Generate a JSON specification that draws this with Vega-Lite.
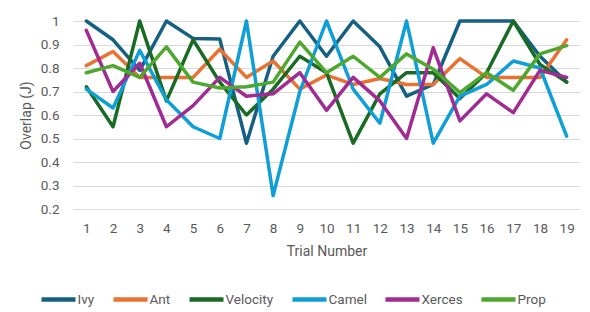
{
  "$schema": "https://vega.github.io/schema/vega-lite/v6.json",
  "width": 507,
  "height": 188,
  "autosize": {"type": "none"},
  "padding": {"left": 73, "top": 21, "right": 10, "bottom": 103},
  "background": "white",
  "config": {
    "view": {"stroke": null},
    "font": "Roboto",
    "axis": {"labelColor": "#595959", "titleColor": "#595959", "labelFontSize": 13.5, "titleFontSize": 14, "titleFontWeight": "normal"},
    "legend": {"labelColor": "#595959", "labelFontSize": 13.5}
  },
  "data": {
    "values": [
      {"trial": 1, "series": "Ivy", "value": 1.0},
      {"trial": 2, "series": "Ivy", "value": 0.92},
      {"trial": 3, "series": "Ivy", "value": 0.79},
      {"trial": 4, "series": "Ivy", "value": 1.0},
      {"trial": 5, "series": "Ivy", "value": 0.926},
      {"trial": 6, "series": "Ivy", "value": 0.923},
      {"trial": 7, "series": "Ivy", "value": 0.48},
      {"trial": 8, "series": "Ivy", "value": 0.85},
      {"trial": 9, "series": "Ivy", "value": 1.0},
      {"trial": 10, "series": "Ivy", "value": 0.85},
      {"trial": 11, "series": "Ivy", "value": 1.0},
      {"trial": 12, "series": "Ivy", "value": 0.89},
      {"trial": 13, "series": "Ivy", "value": 0.68},
      {"trial": 14, "series": "Ivy", "value": 0.73},
      {"trial": 15, "series": "Ivy", "value": 1.0},
      {"trial": 16, "series": "Ivy", "value": 1.0},
      {"trial": 17, "series": "Ivy", "value": 1.0},
      {"trial": 18, "series": "Ivy", "value": 0.85},
      {"trial": 19, "series": "Ivy", "value": 0.74},

      {"trial": 1, "series": "Ant", "value": 0.81},
      {"trial": 2, "series": "Ant", "value": 0.87},
      {"trial": 3, "series": "Ant", "value": 0.76},
      {"trial": 4, "series": "Ant", "value": 0.76},
      {"trial": 5, "series": "Ant", "value": 0.76},
      {"trial": 6, "series": "Ant", "value": 0.88},
      {"trial": 7, "series": "Ant", "value": 0.76},
      {"trial": 8, "series": "Ant", "value": 0.83},
      {"trial": 9, "series": "Ant", "value": 0.71},
      {"trial": 10, "series": "Ant", "value": 0.77},
      {"trial": 11, "series": "Ant", "value": 0.73},
      {"trial": 12, "series": "Ant", "value": 0.755},
      {"trial": 13, "series": "Ant", "value": 0.73},
      {"trial": 14, "series": "Ant", "value": 0.73},
      {"trial": 15, "series": "Ant", "value": 0.84},
      {"trial": 16, "series": "Ant", "value": 0.76},
      {"trial": 17, "series": "Ant", "value": 0.76},
      {"trial": 18, "series": "Ant", "value": 0.76},
      {"trial": 19, "series": "Ant", "value": 0.92},

      {"trial": 1, "series": "Velocity", "value": 0.72},
      {"trial": 2, "series": "Velocity", "value": 0.55},
      {"trial": 3, "series": "Velocity", "value": 1.0},
      {"trial": 4, "series": "Velocity", "value": 0.66},
      {"trial": 5, "series": "Velocity", "value": 0.92},
      {"trial": 6, "series": "Velocity", "value": 0.74},
      {"trial": 7, "series": "Velocity", "value": 0.6},
      {"trial": 8, "series": "Velocity", "value": 0.71},
      {"trial": 9, "series": "Velocity", "value": 0.85},
      {"trial": 10, "series": "Velocity", "value": 0.78},
      {"trial": 11, "series": "Velocity", "value": 0.48},
      {"trial": 12, "series": "Velocity", "value": 0.69},
      {"trial": 13, "series": "Velocity", "value": 0.78},
      {"trial": 14, "series": "Velocity", "value": 0.78},
      {"trial": 15, "series": "Velocity", "value": 0.67},
      {"trial": 16, "series": "Velocity", "value": 0.78},
      {"trial": 17, "series": "Velocity", "value": 1.0},
      {"trial": 18, "series": "Velocity", "value": 0.815},
      {"trial": 19, "series": "Velocity", "value": 0.74},

      {"trial": 1, "series": "Camel", "value": 0.71},
      {"trial": 2, "series": "Camel", "value": 0.63},
      {"trial": 3, "series": "Camel", "value": 0.875},
      {"trial": 4, "series": "Camel", "value": 0.665},
      {"trial": 5, "series": "Camel", "value": 0.55},
      {"trial": 6, "series": "Camel", "value": 0.5},
      {"trial": 7, "series": "Camel", "value": 1.0},
      {"trial": 8, "series": "Camel", "value": 0.257},
      {"trial": 9, "series": "Camel", "value": 0.7},
      {"trial": 10, "series": "Camel", "value": 1.0},
      {"trial": 11, "series": "Camel", "value": 0.71},
      {"trial": 12, "series": "Camel", "value": 0.565},
      {"trial": 13, "series": "Camel", "value": 1.0},
      {"trial": 14, "series": "Camel", "value": 0.48},
      {"trial": 15, "series": "Camel", "value": 0.68},
      {"trial": 16, "series": "Camel", "value": 0.73},
      {"trial": 17, "series": "Camel", "value": 0.83},
      {"trial": 18, "series": "Camel", "value": 0.8},
      {"trial": 19, "series": "Camel", "value": 0.51},

      {"trial": 1, "series": "Xerces", "value": 0.96},
      {"trial": 2, "series": "Xerces", "value": 0.7},
      {"trial": 3, "series": "Xerces", "value": 0.82},
      {"trial": 4, "series": "Xerces", "value": 0.55},
      {"trial": 5, "series": "Xerces", "value": 0.64},
      {"trial": 6, "series": "Xerces", "value": 0.76},
      {"trial": 7, "series": "Xerces", "value": 0.68},
      {"trial": 8, "series": "Xerces", "value": 0.69},
      {"trial": 9, "series": "Xerces", "value": 0.78},
      {"trial": 10, "series": "Xerces", "value": 0.62},
      {"trial": 11, "series": "Xerces", "value": 0.76},
      {"trial": 12, "series": "Xerces", "value": 0.66},
      {"trial": 13, "series": "Xerces", "value": 0.5},
      {"trial": 14, "series": "Xerces", "value": 0.886},
      {"trial": 15, "series": "Xerces", "value": 0.575},
      {"trial": 16, "series": "Xerces", "value": 0.69},
      {"trial": 17, "series": "Xerces", "value": 0.61},
      {"trial": 18, "series": "Xerces", "value": 0.79},
      {"trial": 19, "series": "Xerces", "value": 0.76},

      {"trial": 1, "series": "Prop", "value": 0.78},
      {"trial": 2, "series": "Prop", "value": 0.81},
      {"trial": 3, "series": "Prop", "value": 0.76},
      {"trial": 4, "series": "Prop", "value": 0.89},
      {"trial": 5, "series": "Prop", "value": 0.74},
      {"trial": 6, "series": "Prop", "value": 0.715},
      {"trial": 7, "series": "Prop", "value": 0.72},
      {"trial": 8, "series": "Prop", "value": 0.74},
      {"trial": 9, "series": "Prop", "value": 0.91},
      {"trial": 10, "series": "Prop", "value": 0.78},
      {"trial": 11, "series": "Prop", "value": 0.85},
      {"trial": 12, "series": "Prop", "value": 0.76},
      {"trial": 13, "series": "Prop", "value": 0.86},
      {"trial": 14, "series": "Prop", "value": 0.795},
      {"trial": 15, "series": "Prop", "value": 0.695},
      {"trial": 16, "series": "Prop", "value": 0.78},
      {"trial": 17, "series": "Prop", "value": 0.705},
      {"trial": 18, "series": "Prop", "value": 0.86},
      {"trial": 19, "series": "Prop", "value": 0.895}
    ]
  },
  "mark": {"type": "line", "strokeWidth": 3.5, "strokeJoin": "round", "strokeCap": "round"},
  "encoding": {
    "x": {
      "field": "trial", "type": "ordinal", "title": "Trial Number",
      "scale": {"type": "point", "padding": 0.5},
      "axis": {"labelAngle": 0, "ticks": false, "domain": false, "grid": false, "labelPadding": 12, "titlePadding": 10}
    },
    "y": {
      "field": "value", "type": "quantitative", "title": "Overlap (J)",
      "scale": {"domain": [0.2, 1], "zero": false, "nice": false},
      "axis": {"values": [0.2, 0.3, 0.4, 0.5, 0.6, 0.7, 0.8, 0.9, 1], "labelExpr": "datum.value == 1 ? '1' : format(datum.value, '.1f')", "ticks": false, "domain": false, "gridColor": "#d9d9d9", "gridWidth": 1, "labelPadding": 14, "titlePadding": 7}
    },
    "color": {
      "field": "series", "type": "nominal", "title": null,
      "scale": {
        "domain": ["Ivy", "Ant", "Velocity", "Camel", "Xerces", "Prop"],
        "range": ["#156082", "#e97132", "#196b24", "#0f9ed5", "#a02b93", "#4ea72e"]
      },
      "legend": {
        "orient": "none", "legendX": -27, "legendY": 266, "direction": "horizontal",
        "symbolType": "M-1.7,0H1.7", "symbolFillColor": "transparent",
        "gridAlign": "none", "columns": 6,
        "symbolSize": 400, "symbolStrokeWidth": 4.5, "columnPadding": 9,
        "labelOffset": 6.5
      }
    }
  }
}
